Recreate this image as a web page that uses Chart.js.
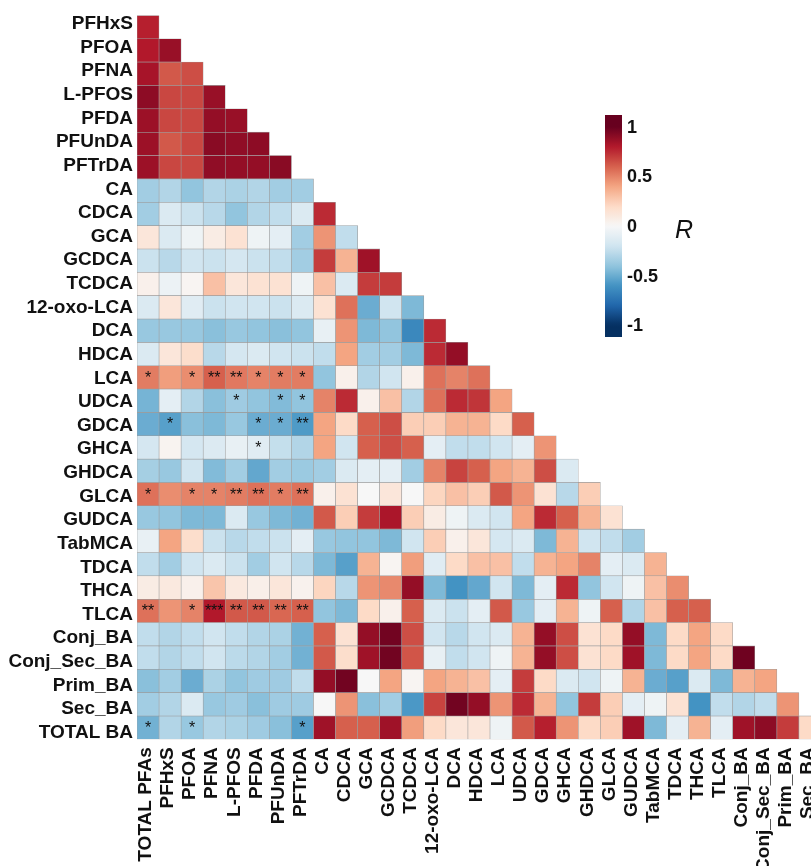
<!DOCTYPE html>
<html><head><meta charset="utf-8">
<script src="https://cdn.jsdelivr.net/npm/chart.js@4.4.1/dist/chart.umd.min.js"></script>
<style>
html,body{margin:0;padding:0;overflow:hidden;background:#fff;width:811px;height:866px}
#wrap{position:absolute;left:0;top:0;width:822px;height:866px}
</style>
</head><body><div id="wrap"><canvas id="c" width="822" height="866"></canvas></div>
<script>
// ---- variables (columns = first 31, rows = last 31) ----
const variables = ["TOTAL PFAs","PFHxS","PFOA","PFNA","L-PFOS","PFDA","PFUnDA","PFTrDA","CA","CDCA","GCA","GCDCA","TCDCA","12-oxo-LCA","DCA","HDCA","LCA","UDCA","GDCA","GHCA","GHDCA","GLCA","GUDCA","TabMCA","TDCA","THCA","TLCA","Conj_BA","Conj_Sec_BA","Prim_BA","Sec_BA","TOTAL BA"];
const colLabels = variables.slice(0, 31);
const rowLabels = variables.slice(1);

// ---- correlation values (lower triangle, one array per row) ----
const rPFHxS = [0.78];
const rPFOA = [0.8, 0.87];
const rPFNA = [0.83, 0.62, 0.65];
const rLPFOS = [0.9, 0.67, 0.67, 0.87];
const rPFDA = [0.86, 0.67, 0.67, 0.88, 0.87];
const rPFUnDA = [0.86, 0.62, 0.67, 0.91, 0.89, 0.9];
const rPFTrDA = [0.86, 0.67, 0.67, 0.89, 0.88, 0.88, 0.91];
const rCA = [-0.35, -0.3, -0.4, -0.3, -0.32, -0.3, -0.35, -0.35];
const rCDCA = [-0.35, -0.15, -0.22, -0.28, -0.4, -0.3, -0.25, -0.15, 0.75];
const rGCA = [0.12, -0.15, -0.05, 0.08, 0.15, -0.05, -0.1, -0.35, 0.45, -0.25];
const rGCDCA = [-0.22, -0.28, -0.2, -0.22, -0.18, -0.22, -0.25, -0.35, 0.7, 0.35, 0.85];
const rTCDCA = [0.05, -0.06, 0.02, 0.3, 0.12, 0.15, 0.15, -0.05, 0.3, -0.15, 0.7, 0.7];
const rOxoLCA = [-0.15, 0.12, -0.12, -0.22, -0.2, -0.2, -0.22, -0.15, 0.15, 0.55, -0.5, -0.2, -0.45];
const rDCA = [-0.38, -0.38, -0.38, -0.42, -0.38, -0.4, -0.42, -0.4, -0.08, 0.45, -0.45, -0.4, -0.65, 0.75];
const rHDCA = [-0.15, 0.12, 0.18, -0.28, -0.18, -0.15, -0.2, -0.22, -0.25, 0.4, -0.35, -0.35, -0.45, 0.75, 0.88];
const rLCA = [0.52, 0.42, 0.47, 0.6, 0.53, 0.5, 0.52, 0.52, -0.4, 0.05, -0.3, -0.2, 0.05, 0.55, 0.5, 0.55];
const rUDCA = [-0.47, -0.1, -0.3, -0.42, -0.36, -0.4, -0.44, -0.4, 0.5, 0.75, 0.05, 0.3, -0.3, 0.55, 0.75, 0.72, 0.4];
const rGDCA = [-0.5, -0.55, -0.42, -0.45, -0.38, -0.5, -0.5, -0.57, 0.4, 0.2, 0.6, 0.65, 0.25, 0.25, 0.35, 0.35, 0.2, 0.6];
const rGHCA = [-0.18, 0.03, -0.18, -0.14, -0.08, -0.12, -0.24, -0.3, 0.4, -0.2, 0.6, 0.65, 0.6, -0.1, -0.25, -0.25, -0.2, -0.1, 0.45];
const rGHDCA = [-0.34, -0.38, -0.2, -0.44, -0.35, -0.52, -0.35, -0.37, -0.35, -0.15, -0.1, -0.1, -0.35, 0.5, 0.68, 0.6, 0.4, 0.35, 0.65, -0.15];
const rGLCA = [0.55, 0.47, 0.5, 0.5, 0.52, 0.55, 0.52, 0.55, 0.05, 0.15, 0.0, 0.12, 0.0, 0.22, 0.3, 0.25, 0.62, 0.45, 0.15, -0.28, 0.25];
const rGUDCA = [-0.38, -0.4, -0.45, -0.45, -0.15, -0.38, -0.45, -0.48, 0.62, 0.25, 0.7, 0.82, 0.25, 0.08, -0.05, -0.15, -0.2, 0.4, 0.75, 0.6, 0.35, 0.15];
const rTabMCA = [-0.08, 0.4, 0.18, -0.22, -0.28, -0.25, -0.22, -0.1, -0.38, -0.4, -0.4, -0.45, -0.2, 0.25, 0.05, 0.12, -0.18, -0.15, -0.45, 0.35, -0.2, -0.25, -0.35];
const rTDCA = [-0.25, -0.35, -0.2, -0.15, -0.22, -0.35, -0.2, -0.28, -0.45, -0.55, 0.35, 0.02, 0.42, -0.12, 0.2, 0.3, 0.3, -0.25, 0.35, 0.4, 0.5, -0.1, -0.15, 0.35];
const rTHCA = [0.08, 0.1, 0.05, 0.28, 0.1, 0.06, 0.12, 0.04, 0.22, -0.28, 0.45, 0.48, 0.88, -0.45, -0.6, -0.52, -0.2, -0.45, -0.1, 0.75, -0.4, -0.2, -0.05, 0.3, 0.47];
const rTLCA = [0.55, 0.45, 0.5, 0.8, 0.62, 0.62, 0.58, 0.6, -0.4, -0.45, 0.2, 0.05, 0.6, -0.15, -0.22, -0.1, 0.62, -0.38, -0.1, 0.35, -0.05, 0.6, -0.3, 0.3, 0.6, 0.6];
const rConjBA = [-0.25, -0.3, -0.25, -0.2, -0.25, -0.3, -0.32, -0.48, 0.6, 0.15, 0.88, 0.97, 0.65, -0.2, -0.28, -0.2, -0.15, 0.35, 0.88, 0.65, 0.15, 0.2, 0.88, -0.45, 0.2, 0.4, 0.2];
const rConjSecBA = [-0.25, -0.3, -0.25, -0.2, -0.27, -0.3, -0.35, -0.48, 0.62, 0.18, 0.85, 0.97, 0.63, -0.08, -0.25, -0.2, -0.05, 0.35, 0.88, 0.65, 0.15, 0.2, 0.85, -0.45, 0.2, 0.4, 0.2, 0.98];
const rPrimBA = [-0.42, -0.35, -0.5, -0.32, -0.4, -0.36, -0.36, -0.25, 0.88, 0.97, 0.0, 0.4, 0.02, 0.4, 0.35, 0.3, -0.1, 0.7, 0.2, -0.15, -0.2, -0.05, 0.35, -0.5, -0.55, -0.15, -0.45, 0.35, 0.4];
const rSecBA = [-0.35, -0.3, -0.15, -0.38, -0.36, -0.42, -0.36, -0.36, 0.0, 0.45, -0.42, -0.35, -0.58, 0.68, 0.97, 0.88, 0.45, 0.75, 0.35, -0.4, 0.7, 0.25, -0.1, -0.05, 0.15, -0.6, -0.25, -0.3, -0.25, 0.45];
const rTotalBA = [-0.48, -0.3, -0.38, -0.3, -0.32, -0.36, -0.42, -0.55, 0.85, 0.6, 0.6, 0.85, 0.42, 0.2, 0.12, 0.12, -0.05, 0.62, 0.78, 0.45, 0.2, 0.25, 0.85, -0.45, -0.1, 0.35, -0.1, 0.85, 0.9, 0.7, 0.2];

const corrRows = [rPFHxS, rPFOA, rPFNA, rLPFOS, rPFDA, rPFUnDA, rPFTrDA, rCA, rCDCA, rGCA, rGCDCA, rTCDCA, rOxoLCA, rDCA, rHDCA, rLCA, rUDCA, rGDCA, rGHCA, rGHDCA, rGLCA, rGUDCA, rTabMCA, rTDCA, rTHCA, rTLCA, rConjBA, rConjSecBA, rPrimBA, rSecBA, rTotalBA];

// ---- significance marks (first 8 columns) ----
const starRowNames = ["LCA", "UDCA", "GDCA", "GHCA", "GLCA", "TLCA", "TOTAL BA"];
const starMarks = [
  ["*", "", "*", "**", "**", "*", "*", "*"],
  ["", "", "", "", "*", "", "*", "*"],
  ["", "*", "", "", "", "*", "*", "**"],
  ["", "", "", "", "", "*", "", ""],
  ["*", "", "*", "*", "**", "**", "*", "**"],
  ["**", "", "*", "***", "**", "**", "**", "**"],
  ["*", "", "*", "", "", "", "", "*"]
];

// ---- colour legend ----
const legendTicks = [1, 0.5, 0, -0.5, -1];
const legendTickLabels = ["1", "0.5", "0", "-0.5", "-1"];
const legendTitle = "R";

// RdBu palette
const palette = [[-1,'#053061'],[-0.8,'#2166AC'],[-0.6,'#4393C3'],[-0.4,'#92C5DE'],[-0.2,'#D1E5F0'],[0,'#F7F7F7'],[0.2,'#FDDBC7'],[0.4,'#F4A582'],[0.6,'#D6604D'],[0.8,'#B2182B'],[1,'#67001F']];
function hex(h){return [parseInt(h.slice(1,3),16),parseInt(h.slice(3,5),16),parseInt(h.slice(5,7),16)];}
function colorFor(r){
  r = Math.max(-1, Math.min(1, r));
  for (let k = 0; k < palette.length - 1; k++) {
    const [a, ca] = palette[k], [b, cb] = palette[k+1];
    if (r >= a && r <= b) {
      const t = (r - a) / (b - a), A = hex(ca), B = hex(cb);
      const m = A.map((v, j) => Math.round(v + (B[j] - v) * t));
      return `rgb(${m[0]},${m[1]},${m[2]})`;
    }
  }
  return '#F7F7F7';
}

const FONT = "'Liberation Sans', Arial, Helvetica, sans-serif";

const datasets = corrRows.map((vals, i) => ({
  label: rowLabels[i],
  yAxisID: 'y',
  data: colLabels.map((_, c) => c < vals.length ? [i, i + 1] : null),
  backgroundColor: ctx => { const v = vals[ctx.dataIndex]; return v === undefined ? 'rgba(0,0,0,0)' : colorFor(v); }
}));

const starPlugin = {
  id: 'stars',
  afterDatasetsDraw(chart) {
    const ctx = chart.ctx;
    ctx.save();
    ctx.fillStyle = '#111';
    ctx.font = `16px ${FONT}`;
    ctx.textAlign = 'center';
    ctx.textBaseline = 'middle';
    starRowNames.forEach((name, k) => {
      const meta = chart.getDatasetMeta(rowLabels.indexOf(name));
      starMarks[k].forEach((m, c) => {
        if (!m) return;
        const el = meta.data[c];
        ctx.fillText(m, el.x, (el.y + el.base) / 2 + 1);
      });
    });
    ctx.restore();
  }
};

const colorbarPlugin = {
  id: 'colorbar',
  afterDraw(chart) {
    const ctx = chart.ctx;
    const x = 605, w = 17, top = 115, bottom = 337, zeroY = 226, unit = 99.3;
    const g = ctx.createLinearGradient(0, top, 0, bottom);
    for (let y = top; y <= bottom; y += 4) {
      g.addColorStop((y - top) / (bottom - top), colorFor((zeroY - y) / unit));
    }
    g.addColorStop(1, colorFor((zeroY - bottom) / unit));
    ctx.save();
    ctx.fillStyle = g;
    ctx.fillRect(x, top, w, bottom - top);
    ctx.fillStyle = '#111';
    ctx.font = `bold 18px ${FONT}`;
    ctx.textAlign = 'left';
    ctx.textBaseline = 'middle';
    legendTicks.forEach((v, i) => ctx.fillText(legendTickLabels[i], 627, zeroY - v * unit + 1));
    ctx.font = `italic 25px ${FONT}`;
    ctx.fillText(legendTitle, 675, 231);
    ctx.restore();
  }
};

const labelFont = { family: FONT, size: 19, weight: 'bold' };

new Chart(document.getElementById('c'), {
  type: 'bar',
  data: { labels: colLabels, datasets },
  options: {
    responsive: false,
    animation: false,
    devicePixelRatio: 1,
    layout: { padding: { left: 0, right: 1, top: 14.8, bottom: 0 } },
    plugins: { legend: { display: false }, tooltip: { enabled: false } },
    datasets: { bar: { grouped: false, barPercentage: 1, categoryPercentage: 1, borderWidth: 0.6, borderColor: '#9c9c9c', borderSkipped: false } },
    scales: {
      x: {
        type: 'category', offset: true,
        grid: { display: false, drawTicks: false }, border: { display: false },
        ticks: { autoSkip: false, minRotation: 90, maxRotation: 90, padding: 8, labelOffset: -2, color: '#111', font: labelFont },
        afterFit(s) { s.height = 126.7; s.paddingLeft = 0; s.paddingRight = 0; }
      },
      y: {
        type: 'linear', position: 'left', min: 0, max: 31, reverse: true,
        grid: { display: false, drawTicks: false }, border: { display: false },
        ticks: { display: false },
        afterFit(s) { s.width = 0; }
      },
      yl: {
        type: 'linear', position: 'left', min: 0.14, max: 30.78, reverse: true,
        grid: { display: false, drawTicks: false }, border: { display: false },
        afterBuildTicks(s) { s.ticks = rowLabels.map((_, i) => ({ value: i + 0.5 })); },
        ticks: { autoSkip: false, padding: 4, color: '#111', font: labelFont, callback: (v, i) => rowLabels[i] },
        afterFit(s) { s.width = 137; }
      }
    }
  },
  plugins: [starPlugin, colorbarPlugin]
});
</script>
</body></html>
